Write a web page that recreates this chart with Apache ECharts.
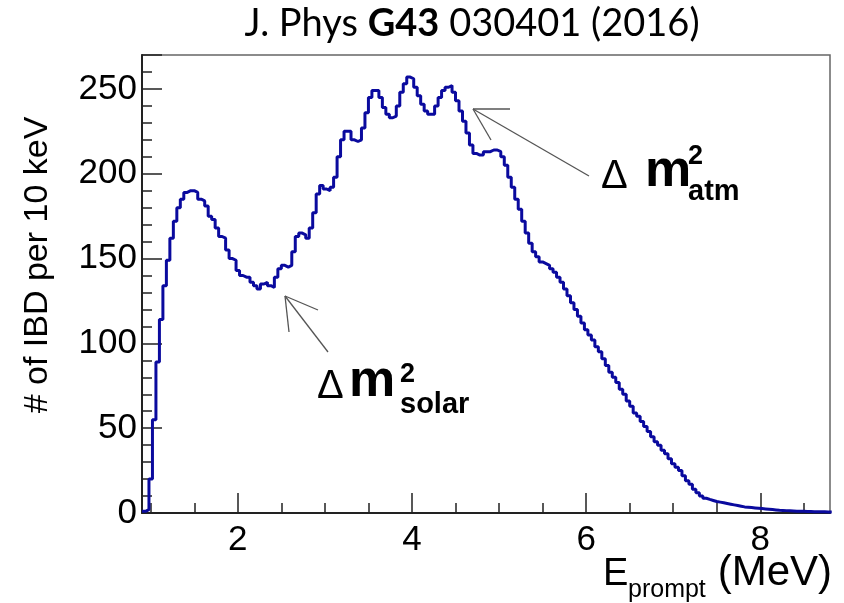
<!DOCTYPE html>
<html>
<head>
<meta charset="utf-8">
<script src="https://cdn.jsdelivr.net/npm/echarts@6/dist/echarts.min.js"></script>
<style>
  html, body { margin: 0; padding: 0; background: #ffffff; }
  #chart { width: 844px; height: 603px; }
</style>
</head>
<body>
<div id="chart"></div>
<script>
// Prompt-energy spectrum of IBD events (histogram, fixed-width bins)
const binStart = 0.9;   // MeV, lower edge of the first bin
const binWidth = 0.04;  // MeV

const counts = [
  1, 2, 20, 55, 89, 114, 134, 149, 162, 172,
  180, 185, 189, 190, 190, 189, 185, 184, 181, 175,
  173, 168, 163, 162, 155, 150, 149, 143, 140, 139,
  139, 136, 134, 132, 135, 136, 134, 133, 139, 144,
  146, 145, 146, 154, 163, 165, 164, 162, 168, 177,
  188, 193, 191, 190, 192, 198, 210, 220, 225, 225,
  220, 219, 220, 227, 236, 245, 249, 249, 245, 239,
  235, 233, 234, 240, 248, 253, 257, 256, 251, 246,
  241, 237, 235, 235, 240, 245, 249, 251, 252, 248,
  243, 237, 231, 224, 217, 212, 211, 211, 213, 213,
  214, 214, 213, 210, 205, 198, 192, 185, 179, 172,
  165, 159, 154, 151, 148, 147, 146, 144, 142, 139,
  136, 132, 128, 124, 120, 116, 112, 108, 105, 102,
  98, 95, 91, 87, 83, 80, 77, 73, 70, 66,
  63, 59, 57, 54, 51, 48, 45, 42, 40, 37,
  35, 32, 29, 27, 25, 22, 19, 17, 14, 12,
  10, 8.7, 8, 7.4, 6.8, 6.4, 6, 5.6, 5.2, 4.8,
  4.4, 4, 3.6, 3.4, 3.2, 3, 2.8, 2.6, 2.4, 2.2,
  2, 1.8, 1.6, 1.5, 1.4, 1.3, 1.2, 1.1, 1, 1,
  0.9, 0.9, 0.8, 0.8, 0.7, 0.7, 0.6, 0.6
];

const xRange = [0.9, 8.8];
const xMajorTicks = [2, 4, 6, 8];
const xMinorTicks = [1, 1.5, 2.5, 3, 3.5, 4.5, 5, 5.5, 6.5, 7, 7.5, 8.5];
const yRange = [0, 270];
const yMajorStep = 50;

const title = 'J. Phys {b|G43} 030401 (2016)';
const yTitle = '# of IBD per 10 keV';

// step line: one point per lower bin edge, plus the upper edge of the last bin
const points = counts.map((v, i) => [binStart + binWidth * i, v]);
points.push([binStart + binWidth * counts.length, counts[counts.length - 1]]);

const AX = '#222';
const SANS = 'Liberation Sans, Arial, sans-serif';
const TITLE_FONT = 'Lato, Open Sans, sans-serif';

const chart = echarts.init(document.getElementById('chart'), null, { renderer: 'canvas' });

function txt(text, x, y, size, opts) {
  return Object.assign({
    type: 'text',
    x: x, y: y,
    silent: true,
    style: Object.assign({
      text: text,
      fontFamily: SANS,
      fontSize: size,
      fill: '#000',
      align: 'left',
      verticalAlign: 'middle'
    }, (opts && opts.style) || {})
  }, (opts && opts.el) || {});
}

function seg(x1, y1, x2, y2) {
  return {
    type: 'line', silent: true,
    shape: { x1: x1, y1: y1, x2: x2, y2: y2 },
    style: { stroke: '#555', lineWidth: 1.3 }
  };
}

chart.setOption({
  animation: false,
  backgroundColor: '#ffffff',
  grid: {
    left: 142, right: 14, top: 55, bottom: 90,
    show: true, borderColor: '#666', borderWidth: 1.5, backgroundColor: 'transparent'
  },
  xAxis: [
    {
      type: 'value', min: xRange[0], max: xRange[1],
      axisLine: { show: true, onZero: false, lineStyle: { color: AX, width: 2 } },
      axisTick: { show: true, inside: true, length: 20, customValues: xMajorTicks,
                  lineStyle: { color: AX, width: 1.5 } },
      axisLabel: { show: true, customValues: xMajorTicks, fontFamily: SANS, fontSize: 35,
                   color: '#000', margin: 10 },
      splitLine: { show: false }
    },
    {
      type: 'value', min: xRange[0], max: xRange[1], position: 'bottom',
      axisLine: { show: false },
      axisTick: { show: true, inside: true, length: 10, customValues: xMinorTicks,
                  lineStyle: { color: AX, width: 1.5 } },
      axisLabel: { show: false },
      splitLine: { show: false }
    }
  ],
  yAxis: {
    type: 'value', min: yRange[0], max: yRange[1], interval: yMajorStep,
    axisLine: { show: true, onZero: false, lineStyle: { color: AX, width: 2 } },
    axisTick: { show: true, inside: true, length: 20, lineStyle: { color: AX, width: 1.5 } },
    minorTick: { show: true, splitNumber: 5, length: 10, lineStyle: { color: AX, width: 1.5 } },
    axisLabel: { fontFamily: SANS, fontSize: 35, color: '#000', margin: 5, showMaxLabel: false },
    splitLine: { show: false }
  },
  series: [{
    type: 'line',
    step: 'end',
    data: points,
    xAxisIndex: 0,
    symbol: 'none',
    clip: true,
    lineStyle: { color: '#0a0a9e', width: 3 }
  }],
  graphic: [
    // title
    {
      type: 'text', x: 472, y: 24, silent: true,
      style: {
        text: title, fontFamily: TITLE_FONT, fontSize: 38, fill: '#000',
        align: 'center', verticalAlign: 'middle',
        rich: { b: { fontFamily: TITLE_FONT, fontSize: 38, fontWeight: 'bold', fill: '#000' } }
      }
    },
    // y-axis title
    txt(yTitle, 38, 265, 34, { style: { align: 'center' }, el: { rotation: Math.PI / 2 } }),
    // x-axis title
    txt('E', 603, 575, 38),
    txt('prompt', 628, 590, 25),
    txt('(MeV)', 832, 573, 42, { style: { align: 'right' } }),

    // atmospheric splitting annotation
    seg(589, 176, 473, 109),
    seg(473, 109, 510, 109),
    seg(473, 109, 491, 140),
    txt('\u0394', 601, 177, 40),
    txt('m', 645, 172, 52, { style: { fontWeight: 'bold' } }),
    txt('2', 688, 157, 27, { style: { fontWeight: 'bold' } }),
    txt('atm', 688, 192, 29, { style: { fontWeight: 'bold' } }),

    // solar splitting annotation
    seg(328, 352, 285, 296),
    seg(285, 296, 318, 310),
    seg(285, 296, 289, 332),
    txt('\u0394', 317, 387, 40),
    txt('m', 349, 382, 52, { style: { fontWeight: 'bold' } }),
    txt('2', 400, 375, 27, { style: { fontWeight: 'bold' } }),
    txt('solar', 400, 405, 29, { style: { fontWeight: 'bold' } })
  ]
});
</script>
</body>
</html>
